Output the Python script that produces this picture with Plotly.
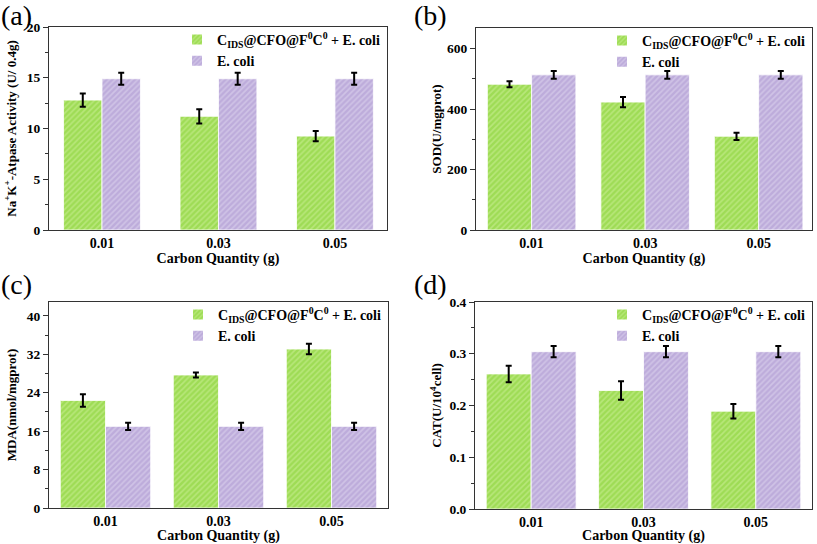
import plotly.graph_objects as go

W, H = 817, 544

categories = ["0.01", "0.03", "0.05"]
legend_names = ["C<sub>IDS</sub>@CFO@F<sup>0</sup>C<sup>0</sup> + E. coli", "E. coli"]

# Panel (a) Na+K+-ATPase
a_green = [12.8, 11.2, 9.25]
a_green_err = [0.65, 0.7, 0.5]
a_purple = [14.9, 14.9, 14.9]
a_purple_err = [0.6, 0.6, 0.6]

# Panel (b) SOD
b_green = [482, 423, 310]
b_green_err = [10, 17, 12]
b_purple = [513, 513, 513]
b_purple_err = [13, 13, 13]

# Panel (c) MDA
c_green = [22.4, 27.7, 33.1]
c_green_err = [1.3, 0.5, 1.1]
c_purple = [17.0, 17.0, 17.0]
c_purple_err = [0.75, 0.75, 0.75]

# Panel (d) CAT
d_green = [0.261, 0.229, 0.189]
d_green_err = [0.016, 0.018, 0.014]
d_purple = [0.304, 0.304, 0.304]
d_purple_err = [0.011, 0.011, 0.011]

SERIF = "Liberation Serif, Times New Roman, serif"
GREEN_BG, GREEN_FG = "#9edc55", "#d2f1a0"
PURP_BG, PURP_FG = "#bdacdb", "#e2daf1"

panels = [
    dict(g=a_green, ge=a_green_err, p=a_purple, pe=a_purple_err, yr=[0, 20], dt=5, mn=2.5,
         yt="Na<sup>+</sup>K<sup>+</sup>-Atpase Activity (U/ 0.4g)", lab="(a)",
         box=(49, 387, 27, 230), bw=0.33, xr=[-0.455, 2.447], tf=None, ys=7),
    dict(g=b_green, ge=b_green_err, p=b_purple, pe=b_purple_err, yr=[0, 668], dt=200, mn=100,
         yt="SOD(U/mgprot)", lab="(b)",
         box=(476, 812, 28, 230), bw=0.39, xr=[-0.49, 2.47], tf=None, ys=2),
    dict(g=c_green, ge=c_green_err, p=c_purple, pe=c_purple_err, yr=[0, 42.9], dt=8, mn=4,
         yt="MDA(nmol/mgprot)", lab="(c)",
         box=(49, 388, 302, 508), bw=0.4, xr=[-0.5, 2.5], tf=None, ys=7),
    dict(g=d_green, ge=d_green_err, p=d_purple, pe=d_purple_err, yr=[0, 0.4], dt=0.1, mn=0.05,
         yt="CAT(U/10<sup>4</sup>cell)", lab="(d)",
         box=(475, 812, 302, 509), bw=0.4, xr=[-0.5, 2.5], tf=".1f", ys=4),
]

fig = go.Figure()
xpos = list(range(len(categories)))
layout = dict(
    width=W, height=H, margin=dict(l=0, r=0, t=0, b=0, autoexpand=False),
    paper_bgcolor="white", plot_bgcolor="white",
    font=dict(family=SERIF, color="black"),
    showlegend=True, barmode="overlay",
)
annotations = []
label_pos = [(-1, -2), (412, -2), (-1, 267), (412, 267)]

for i, pnl in enumerate(panels):
    n = i + 1
    xa = "x" if n == 1 else f"x{n}"
    ya = "y" if n == 1 else f"y{n}"
    lg = "legend" if n == 1 else f"legend{n}"
    x0, x1, y0, y1 = pnl["box"]
    bw = pnl["bw"]
    for j, (vals, errs, bg, fg, name) in enumerate([
        (pnl["g"], pnl["ge"], GREEN_BG, GREEN_FG, legend_names[0]),
        (pnl["p"], pnl["pe"], PURP_BG, PURP_FG, legend_names[1]),
    ]):
        fig.add_trace(go.Bar(
            x=xpos, y=vals, width=bw, offset=-bw if j == 0 else 0,
            name=name, legend=lg, xaxis=xa, yaxis=ya,
            marker=dict(color=bg, line=dict(color="white", width=0.8),
                        pattern=dict(shape="/", fgcolor=fg, bgcolor=bg, size=4, solidity=0.4)),
            error_y=dict(type="data", array=errs, color="black", thickness=2, width=3),
        ))
    xkey = "xaxis" if n == 1 else f"xaxis{n}"
    ykey = "yaxis" if n == 1 else f"yaxis{n}"
    layout[xkey] = dict(
        domain=[x0 / W, x1 / W], anchor=ya, range=pnl["xr"], automargin=False,
        tickmode="array", tickvals=xpos, ticktext=[f"<b>{c}</b>" for c in categories],
        ticks="", showgrid=False, zeroline=False,
        showline=True, linecolor="#333", linewidth=1, mirror=True,
        tickfont=dict(family=SERIF, size=14, color="black"),
        title=dict(text="<b>Carbon Quantity (g)</b>", font=dict(family=SERIF, size=14, color="black"), standoff=1),
        fixedrange=True,
    )
    layout[ykey] = dict(
        domain=[1 - y1 / H, 1 - y0 / H], anchor=xa, range=pnl["yr"], automargin=False,
        dtick=pnl["dt"], tick0=0, ticks="outside", ticklen=5, tickwidth=1, tickcolor="#333",
        minor=dict(dtick=pnl["mn"], ticks="outside", ticklen=3, tickcolor="#333"),
        showgrid=False, zeroline=False,
        showline=True, linecolor="#333", linewidth=1, mirror=True,
        tickfont=dict(family=SERIF, size=13.5, color="black", weight="bold"),
        tickformat=pnl["tf"] if pnl["tf"] else None,
        title=dict(text=f"<b>{pnl['yt']}</b>", font=dict(family=SERIF, size=13, color="black"), standoff=pnl["ys"]),
        fixedrange=True,
    )
    layout[lg] = dict(
        x=(x1 - 2) / W, y=1 - (y0 - 3) / H, xanchor="right", yanchor="top",
        bgcolor="rgba(0,0,0,0)", borderwidth=0,
        font=dict(family=SERIF, size=14, color="black", weight="bold"),
        itemwidth=30, tracegroupgap=0, itemsizing="constant",
    )
    lx, ly = label_pos[i]
    annotations.append(dict(
        text=pnl["lab"], x=lx / W, y=1 - ly / H, xref="paper", yref="paper",
        xanchor="left", yanchor="top", showarrow=False,
        font=dict(family=SERIF, size=28, color="black"),
    ))

layout["annotations"] = annotations
fig.update_layout(**layout)
fig.write_html("out.html", config={"displayModeBar": False},
               post_script="document.body.style.margin='0';document.body.style.overflow='hidden';")
